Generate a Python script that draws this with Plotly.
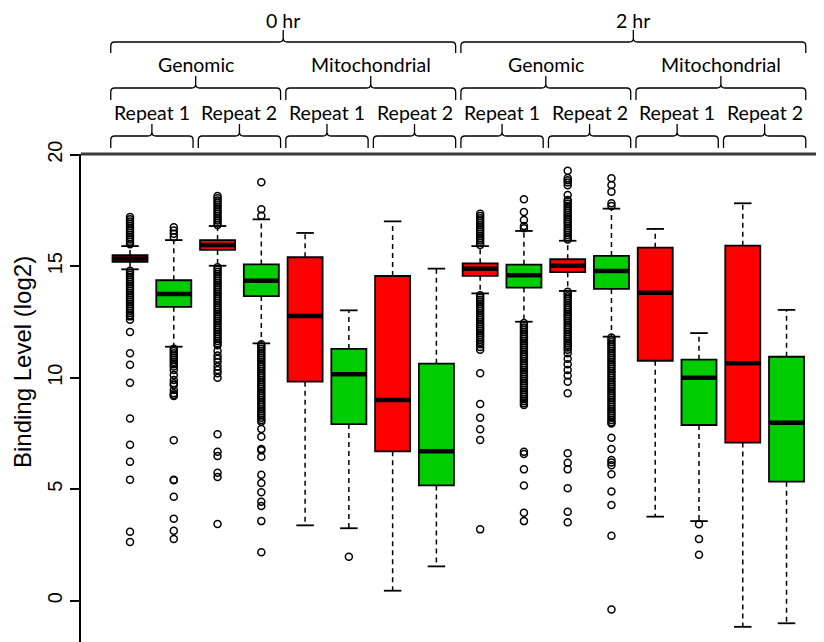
import plotly.graph_objects as go

# ---------------- data ----------------
positions = list(range(1, 17))
time_labels = ["0 hr", "2 hr"]
fraction_labels = ["Genomic", "Mitochondrial"]
repeat_labels = ["Repeat 1", "Repeat 2"]
series_colors = ["#FF0000", "#00CD00"]  # alternating red / green boxes

lower_whisker = [14.86, 11.39, 15.02, 11.54, 3.38, 3.25, 0.45, 1.54,
                 13.78, 12.51, 13.89, 11.84, 3.77, 3.57, -1.17, -1.01]
q1 = [15.20, 13.18, 15.73, 13.66, 9.82, 7.92, 6.70, 5.17,
      14.57, 14.04, 14.73, 13.98, 10.76, 7.88, 7.09, 5.34]
median = [15.35, 13.75, 15.95, 14.35, 12.77, 10.15, 9.00, 6.70,
          14.89, 14.59, 15.02, 14.78, 13.81, 10.00, 10.65, 7.98]
q3 = [15.50, 14.37, 16.17, 15.08, 15.40, 11.29, 14.56, 10.63,
      15.13, 15.07, 15.31, 15.46, 15.83, 10.81, 15.92, 10.94]
upper_whisker = [15.90, 16.17, 16.80, 17.10, 16.49, 13.02, 17.01, 14.89,
                 15.90, 16.58, 16.14, 17.58, 16.67, 12.00, 17.82, 13.04]

outliers = [
    # 1
    [15.98, 16.1, 16.2, 16.3, 16.4, 16.5, 16.6, 16.7, 16.8, 16.9, 17.0, 17.1, 17.2,
     14.8, 14.7, 14.6, 14.5, 14.4, 14.3, 14.2, 14.1, 14.0, 13.9, 13.8, 13.7, 13.6,
     13.5, 13.4, 13.3, 13.2, 13.1, 13.0, 12.9, 12.8, 12.75, 12.6, 12.05, 11.1,
     10.58, 9.77, 8.17, 6.99, 6.23, 5.43, 3.09, 2.63],
    # 2
    [16.3, 16.45, 16.6, 16.75,
     11.3, 11.2, 11.1, 11.0, 10.9, 10.8, 10.7, 10.6, 10.5, 10.35, 10.12, 9.9,
     9.75, 9.67, 9.45, 9.3, 9.22, 9.18, 7.2, 5.42, 5.4, 4.66, 3.68, 3.14, 2.77],
    # 3
    [16.85, 16.95, 17.05, 17.15, 17.25, 17.35, 17.45, 17.55, 17.65, 17.75, 17.85,
     17.95, 18.05, 18.15,
     14.95, 14.85, 14.75, 14.65, 14.55, 14.45, 14.35, 14.25, 14.15, 14.05, 13.95,
     13.85, 13.75, 13.65, 13.55, 13.45, 13.35, 13.25, 13.15, 13.05, 12.95, 12.85,
     12.75, 12.65, 12.55, 12.45, 12.35, 12.25, 12.15, 12.05, 11.95, 11.85, 11.75,
     11.65, 11.55, 11.45, 11.2, 11.0, 10.85, 10.7, 10.5, 10.35, 10.2, 10.0,
     7.46, 6.68, 6.49, 5.74, 5.55, 3.44],
    # 4
    [17.26, 17.55, 18.76,
     11.5, 11.4, 11.3, 11.2, 11.1, 11.0, 10.9, 10.8, 10.7, 10.6, 10.5, 10.4, 10.3,
     10.2, 10.1, 10.0, 9.9, 9.8, 9.7, 9.6, 9.5, 9.4, 9.3, 9.2, 9.1, 9.0, 8.9, 8.8,
     8.7, 8.6, 8.5, 8.4, 8.3, 8.2, 8.1, 8.03, 7.7, 7.35, 6.8, 6.75, 6.46, 5.65,
     5.28, 4.86, 4.44, 4.25, 3.57, 2.17],
    # 5
    [],
    # 6
    [1.97],
    # 7
    [],
    # 8
    [],
    # 9
    [15.95, 16.05, 16.15, 16.25, 16.35, 16.45, 16.55, 16.65, 16.75, 16.85, 16.95,
     17.05, 17.15, 17.25, 17.35,
     13.7, 13.6, 13.5, 13.4, 13.3, 13.2, 13.1, 13.0, 12.9, 12.8, 12.7, 12.6, 12.5,
     12.4, 12.3, 12.2, 12.1, 12.0, 11.9, 11.8, 11.7, 11.6, 11.5, 11.38, 11.25,
     10.2, 8.82, 8.21, 7.69, 7.21, 3.2],
    # 10
    [16.7, 16.8, 17.07, 17.43, 18.0,
     12.45, 12.35, 12.25, 12.15, 12.05, 11.95, 11.85, 11.75, 11.65, 11.55, 11.45,
     11.35, 11.25, 11.15, 11.05, 10.95, 10.85, 10.75, 10.65, 10.55, 10.45, 10.35,
     10.25, 10.15, 10.05, 9.95, 9.85, 9.75, 9.65, 9.55, 9.45, 9.35, 9.25, 9.15,
     9.05, 8.95, 8.85, 8.78, 6.68, 6.58, 5.89, 5.17, 3.95, 3.57],
    # 11
    [16.2, 16.3, 16.4, 16.5, 16.6, 16.7, 16.8, 16.9, 17.0, 17.1, 17.2, 17.3, 17.4,
     17.5, 17.6, 17.7, 17.8, 17.9, 17.97, 18.19, 18.63, 18.75, 18.85, 18.95, 19.28,
     13.85, 13.75, 13.65, 13.55, 13.45, 13.35, 13.25, 13.15, 13.05, 12.95, 12.85,
     12.75, 12.65, 12.55, 12.45, 12.35, 12.25, 12.15, 12.05, 11.95, 11.85, 11.75,
     11.65, 11.55, 11.45, 11.35, 11.25, 11.1, 10.85, 10.6, 10.35, 10.1, 9.82, 9.3,
     6.61, 6.19, 5.89, 5.04, 3.99, 3.52],
    # 12
    [17.7, 17.82, 18.34, 18.64, 18.94,
     11.8, 11.7, 11.6, 11.5, 11.4, 11.3, 11.2, 11.1, 11.0, 10.9, 10.8, 10.7, 10.6,
     10.5, 10.4, 10.3, 10.2, 10.1, 10.0, 9.9, 9.8, 9.7, 9.6, 9.5, 9.4, 9.3, 9.2,
     9.1, 9.0, 8.9, 8.8, 8.7, 8.6, 8.5, 8.4, 8.3, 8.2, 8.1, 8.0, 7.95, 7.31, 6.8,
     6.31, 6.2, 6.08, 5.67, 4.9, 4.29, 2.91, -0.39],
    # 13
    [],
    # 14
    [3.43, 2.77, 2.06],
    # 15
    [],
    # 16
    [],
]

# ---------------- layout constants (style) ----------------
PAGE_OFF = 8            # default body margin of the html page
W, H = 824 - PAGE_OFF, 642 - PAGE_OFF
M_L, M_T = 81 - PAGE_OFF, 154 - PAGE_OFF
PLOT_H = H - M_T
BOX_W = 0.8
CAP_HALF = 0.2
BRACE_PAD = 0.44
TEXT_FONT = "Lato"
AXIS_FONT = "Liberation Sans, Arial, sans-serif"


def py2paper(py):
    """screen pixel row (in the 824x642 window) -> paper fraction"""
    return (H + PAGE_OFF - py) / PLOT_H


fig = go.Figure()

# whiskers (dashed) and caps
wx, wy, cx, cy = [], [], [], []
for i, p in enumerate(positions):
    wx += [p, p, None, p, p, None]
    wy += [q3[i], upper_whisker[i], None, q1[i], lower_whisker[i], None]
    cx += [p - CAP_HALF, p + CAP_HALF, None, p - CAP_HALF, p + CAP_HALF, None]
    cy += [upper_whisker[i], upper_whisker[i], None, lower_whisker[i], lower_whisker[i], None]
fig.add_trace(go.Scatter(x=wx, y=wy, mode="lines", hoverinfo="skip",
                         line=dict(color="black", width=1.5, dash="5px,4px")))
fig.add_trace(go.Scatter(x=cx, y=cy, mode="lines", hoverinfo="skip",
                         line=dict(color="black", width=1.8)))

# boxes
for s, color in enumerate(series_colors):
    idx = [i for i in range(len(positions)) if i % 2 == s]
    fig.add_trace(go.Box(
        x=[positions[i] for i in idx],
        q1=[q1[i] for i in idx],
        median=[median[i] for i in idx],
        q3=[q3[i] for i in idx],
        lowerfence=[q1[i] for i in idx],
        upperfence=[q3[i] for i in idx],
        width=BOX_W, whiskerwidth=0, boxpoints=False,
        fillcolor=color, line=dict(color="black", width=1.8),
        hoverinfo="skip",
    ))

# thick medians
mx, my = [], []
for i, p in enumerate(positions):
    mx += [p - BOX_W / 2, p + BOX_W / 2, None]
    my += [median[i], median[i], None]
fig.add_trace(go.Scatter(x=mx, y=my, mode="lines", hoverinfo="skip",
                         line=dict(color="black", width=4.5)))

# outliers
ox, oy = [], []
for i, p in enumerate(positions):
    ox += [p] * len(outliers[i])
    oy += outliers[i]
fig.add_trace(go.Scatter(x=ox, y=oy, mode="markers", hoverinfo="skip",
                         marker=dict(symbol="circle-open", size=7, color="black",
                                     line=dict(width=1.5, color="black"))))

# ---------------- hierarchical braces ----------------
shapes = []
annotations = []


def brace(x0, x1, yh_px, yend_px, ytip_px):
    xc = (x0 + x1) / 2
    dx = 0.09
    r = 4 / PLOT_H
    h = py2paper(yh_px)
    e = py2paper(yend_px)
    t = py2paper(ytip_px)
    path = (f"M {x0},{e} L {x0},{h - r} Q {x0},{h} {x0 + dx},{h} "
            f"L {xc - dx},{h} Q {xc},{h} {xc},{h + r} L {xc},{t} "
            f"M {xc},{h + r} Q {xc},{h} {xc + dx},{h} "
            f"L {x1 - dx},{h} Q {x1},{h} {x1},{h - r} L {x1},{e}")
    shapes.append(dict(type="path", path=path, xref="x", yref="paper",
                       line=dict(color="black", width=1.3)))


def label(text, xc, y_px):
    annotations.append(dict(text=text, x=xc, y=py2paper(y_px), xref="x", yref="paper",
                            showarrow=False, xanchor="center", yanchor="middle",
                            font=dict(family=TEXT_FONT, size=19.5, color="black")))


n_time = len(time_labels)
n_frac = len(fraction_labels)
n_rep = len(repeat_labels)
per_time = len(positions) // n_time
per_frac = per_time // n_frac
per_rep = per_frac // n_rep

for ti, tl in enumerate(time_labels):
    ps = positions[ti * per_time:(ti + 1) * per_time]
    brace(ps[0] - BRACE_PAD, ps[-1] + BRACE_PAD, 42, 53, 30)
    label(tl, (ps[0] + ps[-1]) / 2, 20)
    for fi, fl in enumerate(fraction_labels):
        pf = ps[fi * per_frac:(fi + 1) * per_frac]
        brace(pf[0] - BRACE_PAD, pf[-1] + BRACE_PAD, 88, 100, 76)
        label(fl, (pf[0] + pf[-1]) / 2, 64)
        for ri, rl in enumerate(repeat_labels):
            pr = pf[ri * per_rep:(ri + 1) * per_rep]
            brace(pr[0] - BRACE_PAD, pr[-1] + BRACE_PAD, 136, 148, 124)
            label(rl, (pr[0] + pr[-1]) / 2, 113)

# top border line
shapes.append(dict(type="line", xref="paper", yref="paper", x0=0, x1=1, y0=1, y1=1,
                   line=dict(color="#3a3a3a", width=3)))

# y title
annotations.append(dict(text="Binding Level (log2)", textangle=-90,
                        x=(22 - 81) / (W - M_L), y=py2paper(362),
                        xref="paper", yref="paper", showarrow=False,
                        xanchor="center", yanchor="middle",
                        font=dict(family=AXIS_FONT, size=24, color="black")))

fig.update_layout(
    width=W, height=H,
    margin=dict(l=M_L, r=0, t=M_T, b=0, pad=0),
    plot_bgcolor="white", paper_bgcolor="white",
    showlegend=False, boxmode="overlay",
    shapes=shapes, annotations=annotations,
    xaxis=dict(visible=False, range=[-0.12, 16.856]),
    yaxis=dict(range=[-1.85, 20.03], tickvals=[0, 5, 10, 15, 20],
               ticktext=["0", "5", "10", "15", "20"],
               showline=True, linecolor="black", linewidth=1.5,
               ticks="outside", ticklen=9, tickwidth=1.5, tickcolor="black",
               tickangle=-90, showgrid=False, zeroline=False,
               tickfont=dict(family=AXIS_FONT, size=20, color="black")),
)

fig.write_html("out.html")
